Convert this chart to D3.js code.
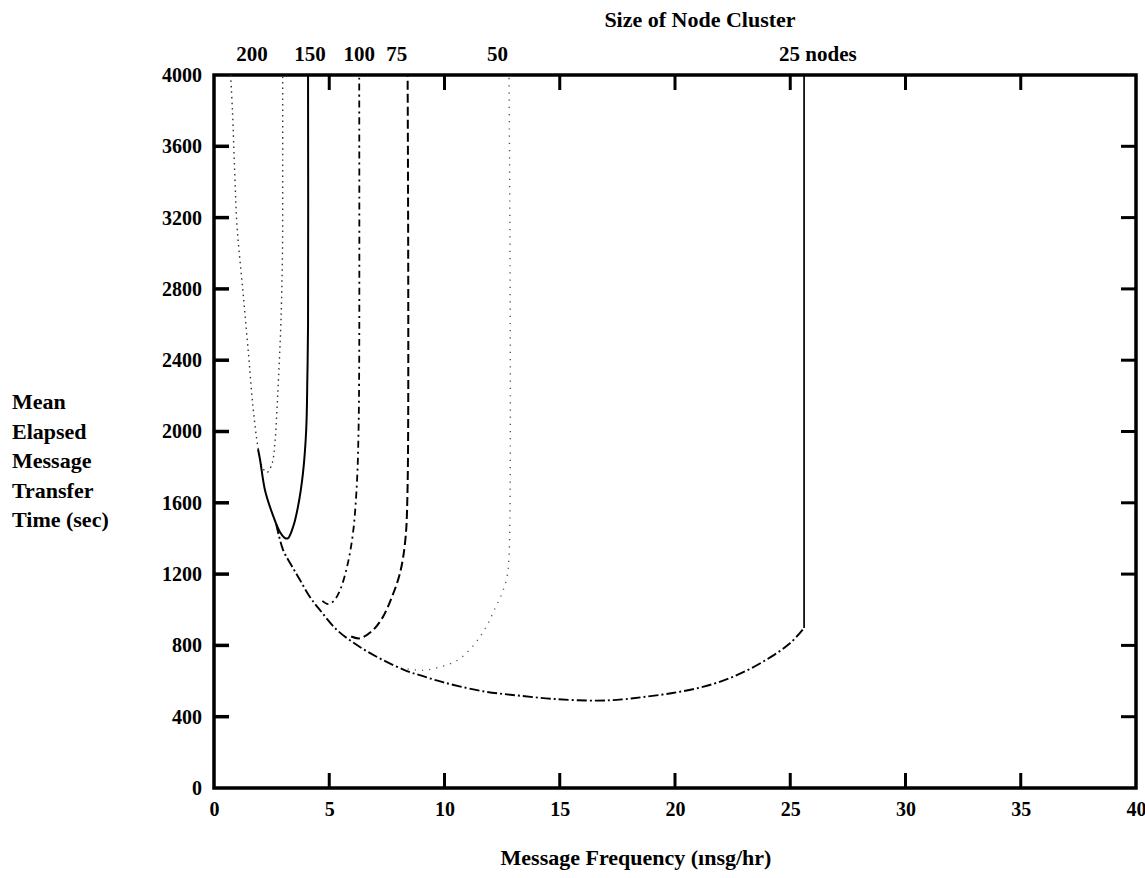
<!DOCTYPE html>
<html>
<head>
<meta charset="utf-8">
<script src="https://cdnjs.cloudflare.com/ajax/libs/d3/7.8.5/d3.min.js"></script>
<style>
  html, body { margin: 0; padding: 0; background: #fff; }
  svg text { font-family: "Liberation Serif", "Times New Roman", serif; font-weight: bold; fill: #000; }
</style>
</head>
<body>
<svg id="chart" width="1145" height="878"></svg>
<script>
// ---------- data ----------
const xTickValues = [0, 5, 10, 15, 20, 25, 30, 35, 40];
const yTickValues = [0, 400, 800, 1200, 1600, 2000, 2400, 2800, 3200, 3600, 4000];
const innerXTicks = [5, 10, 15, 20, 25, 30, 35];
const innerYTicks = [400, 800, 1200, 1600, 2000, 2400, 2800, 3200, 3600];

const clusterNames = ["200", "150", "100", "75", "50", "25 nodes"];
const clusterLabelAt = [1.65, 4.16, 6.3, 7.93, 12.3, 26.2];

const xTitle = "Message Frequency (ınsg/hr)";
const topTitle = "Size of Node Cluster";
const yTitleLines = ["Mean", "Elapsed", "Message", "Transfer", "Time (sec)"];

// curves: [message frequency, mean elapsed time]
const curve200 = [[0.72,4000],[0.8,3800],[0.9,3450],[1.0,3150],[1.26,2780],[1.5,2430],[1.69,2140],[1.91,1910],[2.1,1800],[2.3,1770],[2.52,1820],[2.65,1950],[2.73,2120],[2.8,2300],[2.9,2600],[2.97,3000],[2.98,3500],[2.98,4000]];
const curve150 = [[1.91,1900],[2.0,1840],[2.21,1672],[2.52,1543],[2.86,1436],[3.05,1405],[3.2,1400],[3.43,1464],[3.64,1576],[3.86,1767],[4.0,2008],[4.05,2300],[4.08,2600],[4.08,4000]];
const curve100 = [[4.7,1050],[4.95,1032],[5.2,1050],[5.47,1111],[5.77,1240],[6.03,1430],[6.2,1711],[6.27,2000],[6.3,2400],[6.3,4000]];
const curve75  = [[5.95,850],[6.33,840],[6.9,886],[7.33,960],[7.72,1072],[8.07,1206],[8.3,1391],[8.4,1700],[8.4,4000]];
const curve50  = [[8.4,668],[9.07,660],[9.8,679],[10.4,705],[10.76,735],[11.2,791],[11.6,860],[11.9,926],[12.2,1010],[12.5,1094],[12.7,1178],[12.8,1300],[12.8,4000]];
const curve25  = [[2.7,1480],[3.0,1335],[3.4,1240],[3.73,1167],[4.16,1072],[4.6,998],[5.34,886],[6.33,791],[7.33,718],[8.37,656],[9.0,630],[9.7,602],[10.4,578],[11.8,540],[13.1,520],[14.7,500],[16.6,490],[17.7,497],[18.6,510],[19.9,533],[21.2,567],[22.5,623],[23.8,707],[25.0,813],[25.6,898]];
const limit25  = [[25.6,898],[25.6,4000]];

// ---------- layout ----------
const svg = d3.select("#chart");
const x = d3.scaleLinear().domain([0, 40]).range([214, 1136]);
const y = d3.scaleLinear().domain([0, 4000]).range([788, 75]);
const tickLen = 15;

// frame
svg.append("rect")
  .attr("x", x(0)).attr("y", y(4000))
  .attr("width", x(40) - x(0)).attr("height", y(0) - y(4000))
  .attr("fill", "none").attr("stroke", "#000").attr("stroke-width", 3.5);

// bottom axis (ticks inward)
const bottomAxis = d3.axisBottom(x).tickValues(xTickValues).tickSize(0).tickPadding(14).tickFormat(d3.format("d"));
const gb = svg.append("g").attr("transform", `translate(0,${y(0)})`).call(bottomAxis);
gb.select(".domain").remove();
gb.selectAll("text").attr("font-size", 20).style("font-family", "Liberation Serif").style("font-weight", "bold");

svg.append("g").selectAll("line").data(innerXTicks).join("line")
  .attr("x1", d => x(d)).attr("x2", d => x(d))
  .attr("y1", y(0)).attr("y2", y(0) - tickLen)
  .attr("stroke", "#000").attr("stroke-width", 3);
svg.append("g").selectAll("line").data(innerXTicks).join("line")
  .attr("x1", d => x(d)).attr("x2", d => x(d))
  .attr("y1", y(4000)).attr("y2", y(4000) + tickLen)
  .attr("stroke", "#000").attr("stroke-width", 3);

// left axis
const leftAxis = d3.axisLeft(y).tickValues(yTickValues).tickSize(0).tickPadding(12).tickFormat(d3.format("d"));
const gl = svg.append("g").attr("transform", `translate(${x(0)},0)`).call(leftAxis);
gl.select(".domain").remove();
gl.selectAll("text").attr("font-size", 20).style("font-family", "Liberation Serif").style("font-weight", "bold");

svg.append("g").selectAll("line").data(innerYTicks).join("line")
  .attr("x1", x(0)).attr("x2", x(0) + tickLen)
  .attr("y1", d => y(d)).attr("y2", d => y(d))
  .attr("stroke", "#000").attr("stroke-width", 3.5);
svg.append("g").selectAll("line").data(innerYTicks).join("line")
  .attr("x1", x(40)).attr("x2", x(40) - tickLen)
  .attr("y1", d => y(d)).attr("y2", d => y(d))
  .attr("stroke", "#000").attr("stroke-width", 3);

// top cluster labels
svg.append("g").selectAll("text").data(clusterNames).join("text")
  .attr("x", (d, i) => x(clusterLabelAt[i]))
  .attr("y", 56)
  .attr("text-anchor", "middle")
  .attr("dominant-baseline", "middle")
  .attr("font-size", 21)
  .text(d => d);

svg.append("text").attr("x", 700).attr("y", 22)
  .attr("text-anchor", "middle").attr("dominant-baseline", "middle")
  .attr("font-size", 22).text(topTitle);

svg.append("text").attr("x", 636).attr("y", 860)
  .attr("text-anchor", "middle").attr("dominant-baseline", "middle")
  .attr("font-size", 22).text(xTitle);

svg.append("g").selectAll("text").data(yTitleLines).join("text")
  .attr("x", 12)
  .attr("y", (d, i) => 404 + i * 29.5)
  .attr("dominant-baseline", "middle")
  .attr("font-size", 22)
  .text(d => d);

// ---------- curves ----------
const line = d3.line().x(d => x(d[0])).y(d => y(d[1])).curve(d3.curveCatmullRom.alpha(0.5));
const lineLin = d3.line().x(d => x(d[0])).y(d => y(d[1]));

const series = [
  { data: curve200, dash: "1.5,4", width: 1.4, color: "#333" },
  { data: curve150, dash: null, width: 2, color: "#000" },
  { data: curve100, dash: "7,4,2,4", width: 1.8, color: "#000" },
  { data: curve75,  dash: "9,4", width: 2, color: "#000" },
  { data: curve50,  dash: "1.2,6", width: 1.4, color: "#555" },
  { data: curve25,  dash: "10,3,2,3", width: 1.9, color: "#000" }
];
svg.append("g").selectAll("path").data(series).join("path")
  .attr("d", d => line(d.data))
  .attr("fill", "none")
  .attr("stroke", d => d.color)
  .attr("stroke-width", d => d.width)
  .attr("stroke-dasharray", d => d.dash);

svg.append("path").attr("d", lineLin(limit25))
  .attr("fill", "none").attr("stroke", "#000").attr("stroke-width", 1.7);
</script>
</body>
</html>
